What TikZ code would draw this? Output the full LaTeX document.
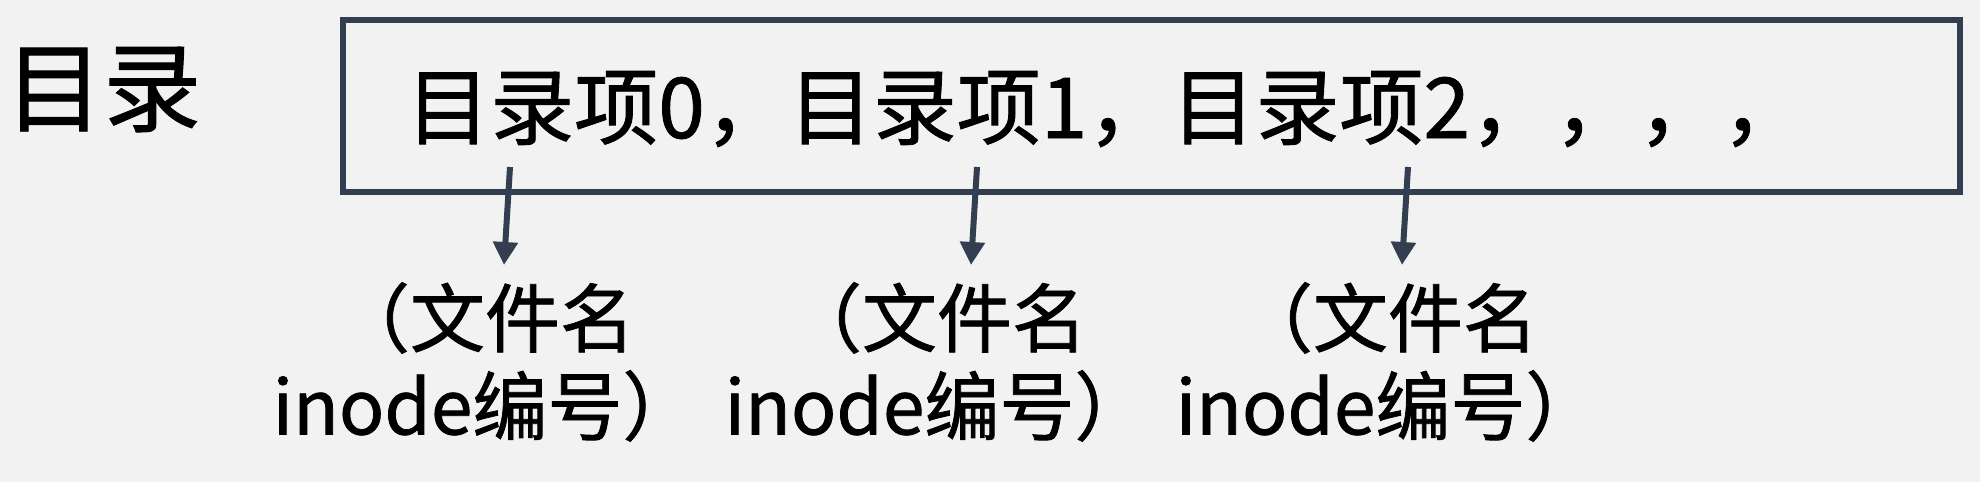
\documentclass[tikz,border=0pt]{standalone}
\usepackage{fontspec}
\setmainfont{Noto Sans CJK SC}[FakeBold=1]
\usetikzlibrary{arrows.meta}
\definecolor{bgc}{HTML}{F2F2F2}
\definecolor{boxc}{HTML}{333F50}
\tikzset{
  frame/.style={draw=boxc, line width=6pt, inner sep=0pt, outer sep=0pt},
  bigtxt/.style={inner sep=0pt, font=\fontsize{98pt}{100pt}\selectfont},
  itemtxt/.style={inner sep=0pt, font=\fontsize{84pt}{95pt}\selectfont},
  labeltxt/.style={inner sep=0pt, align=center, font=\fontsize{75pt}{88pt}\selectfont},
  ptr/.style={draw=boxc, line width=6pt, -{Triangle[length=23pt,width=24pt]}}
}
\begin{document}
\begin{tikzpicture}[x=1pt,y=-1pt]
\fill[bgc] (0,0) rectangle (1980,482);
\useasboundingbox (0,0) rectangle (1980,482);
\node[bigtxt, anchor=base west] (title) at (5,124) {目录};
\node[frame, minimum width=1617pt, minimum height=172pt] (box) at (1151.5,106) {};
\node[itemtxt, anchor=base west] (items) at (406,138) {目录项0，目录项1，目录项2，，，，};
\node[labeltxt, anchor=north] (l0) at (485,282) {（文件名\\inode编号）};
\node[labeltxt, anchor=north] (l1) at (937,282) {（文件名\\inode编号）};
\node[labeltxt, anchor=north] (l2) at (1388,282) {（文件名\\inode编号）};
\coordinate (s0) at (510,167);
\coordinate (s1) at (977,167);
\coordinate (s2) at (1408,167);
\coordinate (t0) at (504,265);
\coordinate (t1) at (971,265);
\coordinate (t2) at (1402,265);
\draw[ptr] (s0) -- (t0);
\draw[ptr] (s1) -- (t1);
\draw[ptr] (s2) -- (t2);
\end{tikzpicture}
\end{document}
